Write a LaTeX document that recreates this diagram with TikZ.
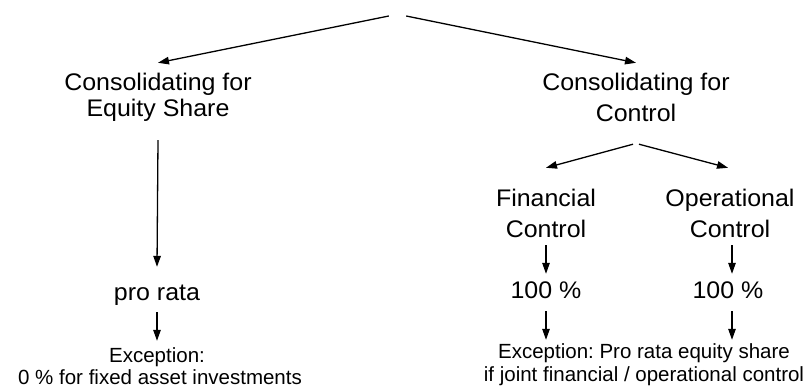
\documentclass[tikz,border=0pt]{standalone}
\usepackage{fontspec}
\usetikzlibrary{arrows.meta}
\newfontfamily\mainf[FakeStretch=1.04]{Liberation Sans}
\newfontfamily\smallf{Liberation Sans}
\begin{document}
\begin{tikzpicture}[x=1pt,y=-1pt,
  big/.style={font=\frenchspacing\mainf\fontsize{24}{24}\selectfont, anchor=base, inner sep=0pt, text height=17pt, text depth=5pt},
  small/.style={font=\frenchspacing\smallf\fontsize{20.5}{20.5}\selectfont, anchor=base, inner sep=0pt, text height=14pt, text depth=4pt},
  arr/.style={draw=black, line width=1.3pt, -{Triangle[length=11pt,width=7.5pt]}}]
\useasboundingbox (0,0) rectangle (809,388);
\node[minimum width=17pt, minimum height=0pt, inner sep=0pt] (root) at (397.5,16) {};
\node[big] (eqA) at (158,90) {Consolidating for};
\node[big] (eqB) at (158,116) {Equity Share};
\node[big] (ctA) at (636,90) {Consolidating for};
\node[big] (ctB) at (636,121) {Control};
\node[big] (fcA) at (546,206) {Financial};
\node[big] (fcB) at (546,237) {Control};
\node[big] (ocA) at (730,206) {Operational};
\node[big] (ocB) at (730,237) {Control};
\node[big] (pr) at (157,300) {pro rata};
\node[big] (pcF) at (546,298) {100 \%};
\node[big] (pcO) at (728,298) {100 \%};
\node[small] (exL1) at (157,362) {Exception:};
\node[small] (exL2) at (160,384) {0 \% for fixed asset investments};
\node[small] (exR1) at (644,358) {Exception: Pro rata equity share};
\node[small] (exR2) at (644,381) {if joint financial / operational control};
\draw[arr] (root.west) -- ([yshift=10pt]eqA.north);
\draw[arr] (root.east) -- ([yshift=10pt]ctA.north);
\draw[arr] ([yshift=-19pt]eqB.south) -- ([yshift=16pt]pr.north);
\draw[arr] ([yshift=-7pt]pr.south) -- ([yshift=7pt]exL1.north);
\draw[arr] ([xshift=-3pt,yshift=-18pt]ctB.south) -- ([yshift=21pt]fcA.north);
\draw[arr] ([xshift=3pt,yshift=-18pt]ctB.south) -- ([xshift=-2pt,yshift=21pt]ocA.north);
\draw[arr] ([yshift=-3pt]fcB.south) -- ([yshift=7pt]pcF.north);
\draw[arr] ([xshift=2pt,yshift=-3pt]ocB.south) -- ([xshift=4pt,yshift=7pt]pcO.north);
\draw[arr] ([yshift=-8pt]pcF.south) -- ([yshift=4pt]pcF.south |- exR1.north);
\draw[arr] ([xshift=4pt,yshift=-8pt]pcO.south) -- ([xshift=4pt,yshift=4pt]pcO.south |- exR1.north);
\end{tikzpicture}
\end{document}
